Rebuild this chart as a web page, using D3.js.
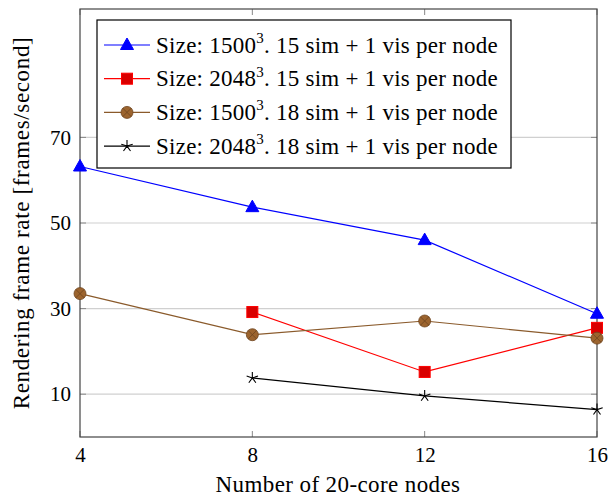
<!DOCTYPE html>
<html><head><meta charset="utf-8">
<script src="https://cdn.jsdelivr.net/npm/d3@7"></script>
<style>body{margin:0;background:#fff}svg{display:block}</style>
</head><body>
<svg id="c" width="610" height="499"></svg>
<script>
const xTicks = [4, 8, 12, 16];
const yTicks = [10, 30, 50, 70];
const s1 = [[4, 63.2], [8, 53.7], [12, 46.0], [16, 28.8]];
const s2 = [[8, 29.2], [12, 15.2], [16, 25.5]];
const s3 = [[4, 33.5], [8, 23.9], [12, 27.1], [16, 23.1]];
const s4 = [[8, 13.8], [12, 9.6], [16, 6.4]];
const labels = ["1500", "2048", "1500", "2048"];
const simCounts = [15, 15, 18, 18];

const series = [
  {data: s1, color: "#0000ff", mark: "triangle", fill: "#0000ff", mstroke: "#0000ff"},
  {data: s2, color: "#ff0000", mark: "square", fill: "#d90000", mstroke: "#ff0000"},
  {data: s3, color: "#8a5a2b", mark: "otimes", fill: "#9c642e", mstroke: "#6e4520"},
  {data: s4, color: "#000000", mark: "star", fill: "none", mstroke: "#000000"}
];

const svg = d3.select("#c");
const L = 80, R = 597, T = 9, B = 437;
const x = d3.scaleLinear().domain([4, 16]).range([L, R]);
const y = d3.scaleLinear().domain([0, 100]).range([B, T]);
const FF = '"Liberation Serif"';
const FS = 21, LFS = 23;

// grid
svg.append("g").selectAll("line").data(yTicks).join("line")
  .attr("x1", L).attr("x2", R).attr("y1", d => y(d)).attr("y2", d => y(d))
  .attr("stroke", "#d0d0d0").attr("stroke-width", 1.2);

// ticks
const tk = svg.append("g").attr("stroke", "#888").attr("stroke-width", 1);
xTicks.forEach(d => {
  tk.append("line").attr("x1", x(d)).attr("x2", x(d)).attr("y1", B).attr("y2", B - 6);
  tk.append("line").attr("x1", x(d)).attr("x2", x(d)).attr("y1", T).attr("y2", T + 6);
});
yTicks.forEach(d => {
  tk.append("line").attr("x1", L).attr("x2", L + 6).attr("y1", y(d)).attr("y2", y(d));
  tk.append("line").attr("x1", R).attr("x2", R - 6).attr("y1", y(d)).attr("y2", y(d));
});

// frame
svg.append("rect").attr("x", L).attr("y", T).attr("width", R - L).attr("height", B - T)
  .attr("fill", "none").attr("stroke", "#444").attr("stroke-width", 1.2);

// tick labels via axes
const xa = svg.append("g").attr("transform", `translate(0,${B})`)
  .call(d3.axisBottom(x).tickValues(xTicks).tickSize(0).tickPadding(10));
const ya = svg.append("g").attr("transform", `translate(${L},0)`)
  .call(d3.axisLeft(y).tickValues(yTicks).tickSize(0).tickPadding(9));
[xa, ya].forEach(a => {
  a.select(".domain").remove();
  a.selectAll("text").style("font-family", FF).style("font-size", FS + "px").attr("fill", "#000");
});

// axis titles
svg.append("text").attr("x", 338).attr("y", 492).attr("text-anchor", "middle")
  .style("font-family", FF).style("font-size", LFS + "px").style("letter-spacing", "0.4px")
  .text("Number of 20-core nodes");
svg.append("text").attr("transform", `translate(29,${(T + B) / 2}) rotate(-90)`)
  .attr("text-anchor", "middle").style("font-family", FF).style("font-size", LFS + "px")
  .style("letter-spacing", "0.65px")
  .text("Rendering frame rate [frames/second]");

function drawMark(g, type, cx, cy, s) {
  if (type === "triangle") {
    g.append("path").attr("d", `M${cx},${cy - 7}L${cx + 6.5},${cy + 4.5}L${cx - 6.5},${cy + 4.5}Z`)
      .attr("fill", s.fill).attr("stroke", s.mstroke).attr("stroke-width", 1);
  } else if (type === "square") {
    g.append("rect").attr("x", cx - 5.5).attr("y", cy - 5.5).attr("width", 11).attr("height", 11)
      .attr("fill", s.fill).attr("stroke", s.mstroke).attr("stroke-width", 1);
  } else if (type === "otimes") {
    g.append("circle").attr("cx", cx).attr("cy", cy).attr("r", 6)
      .attr("fill", s.fill).attr("stroke", s.mstroke).attr("stroke-width", 0.8);
    const k = 6 * Math.SQRT1_2;
    g.append("path").attr("d", `M${cx - k},${cy - k}L${cx + k},${cy + k}M${cx - k},${cy + k}L${cx + k},${cy - k}`)
      .attr("stroke", s.mstroke).attr("stroke-width", 0.8);
  } else if (type === "star") {
    let d = "";
    for (let i = 0; i < 5; i++) {
      const a = -Math.PI / 2 + i * 2 * Math.PI / 5;
      d += `M${cx},${cy}L${cx + 6 * Math.cos(a)},${cy + 6 * Math.sin(a)}`;
    }
    g.append("path").attr("d", d).attr("stroke", s.mstroke).attr("stroke-width", 1.1).attr("fill", "none");
  }
}

const line = d3.line().x(d => x(d[0])).y(d => y(d[1]));
series.forEach(s => {
  const g = svg.append("g");
  g.append("path").attr("d", line(s.data)).attr("fill", "none")
    .attr("stroke", s.color).attr("stroke-width", 1.2);
  s.data.forEach(d => drawMark(g, s.mark, x(d[0]), y(d[1]), s));
});

// legend
const lg = svg.append("g");
lg.append("rect").attr("x", 97).attr("y", 20).attr("width", 414).attr("height", 148)
  .attr("fill", "#fff").attr("stroke", "#000").attr("stroke-width", 1.2);
series.forEach((s, i) => {
  const cy = 45 + i * 33.7;
  lg.append("line").attr("x1", 104).attr("x2", 150).attr("y1", cy).attr("y2", cy)
    .attr("stroke", s.color).attr("stroke-width", 1.2);
  drawMark(lg, s.mark, 127, cy, s);
  const t = lg.append("text").attr("x", 156).attr("y", cy + 7.5)
    .style("font-family", FF).style("font-size", LFS + "px").style("letter-spacing", "0.25px");
  t.append("tspan").text("Size: " + labels[i]);
  t.append("tspan").attr("dy", -9.5).style("font-size", "15px").text("3");
  t.append("tspan").attr("dy", 9.5).text(". " + simCounts[i] + " sim + 1 vis per node");
});
</script>
</body></html>
